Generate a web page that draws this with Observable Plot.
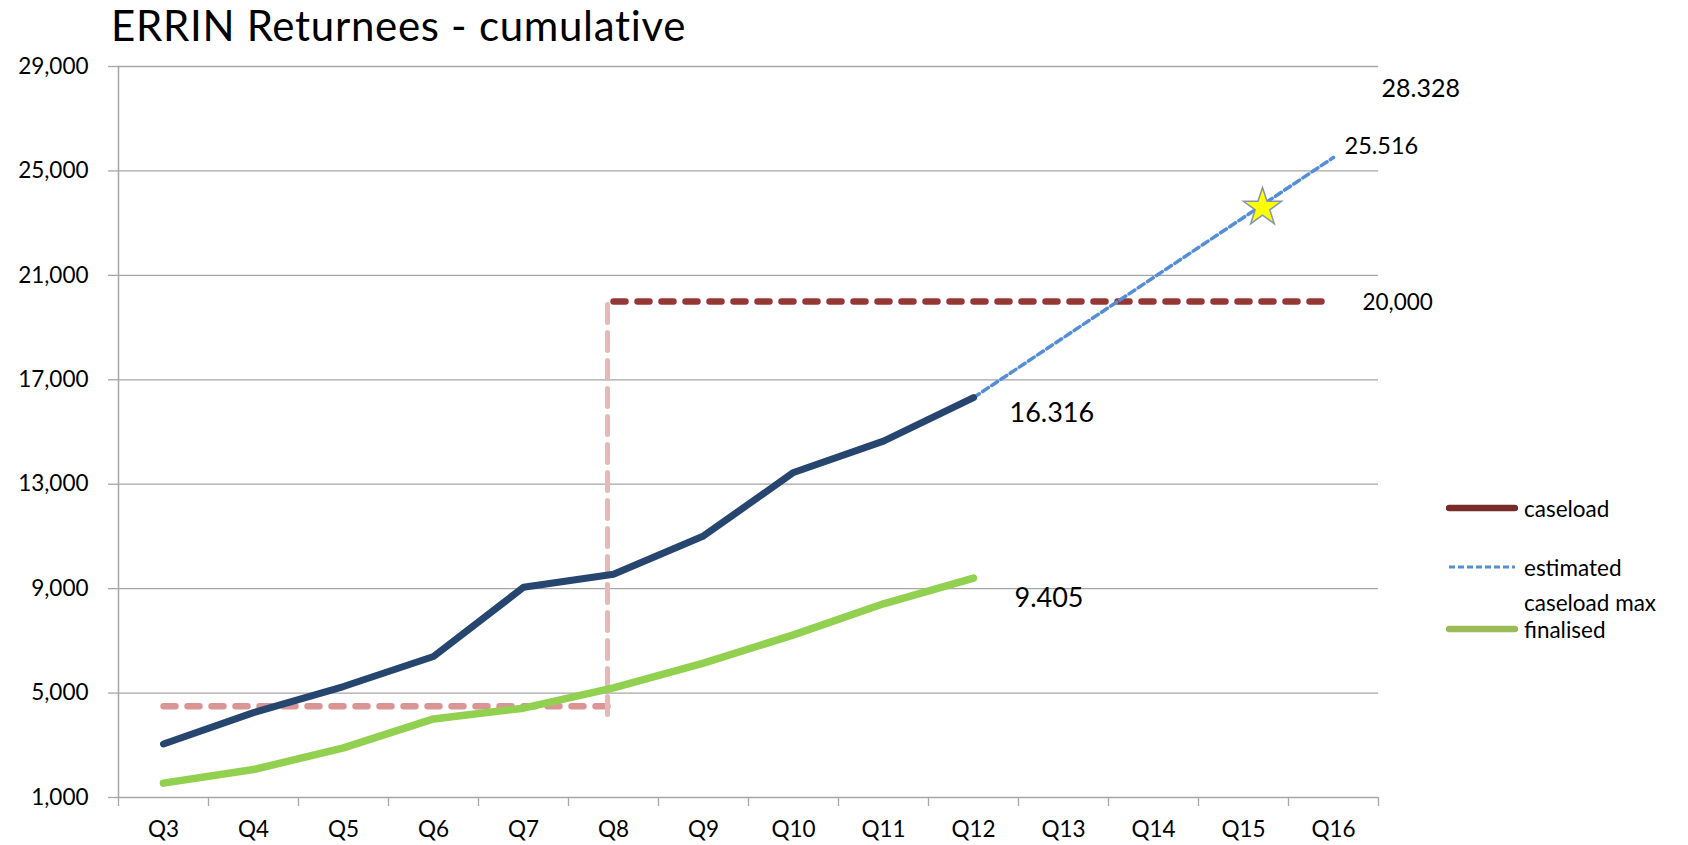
<!DOCTYPE html>
<html><head><meta charset="utf-8">
<script src="https://cdn.jsdelivr.net/npm/d3@7"></script>
<script src="https://cdn.jsdelivr.net/npm/@observablehq/plot@0.6"></script>
<style>
body{margin:0;background:#fff;}
#wrap{position:relative;width:1688px;height:845px;font-family:Lato,"Open Sans",sans-serif;overflow:hidden;}
#title{position:absolute;left:111px;top:0px;font-size:42px;letter-spacing:0.7px;line-height:normal;color:#000;white-space:nowrap;}
#chart{position:absolute;left:0;top:0;}
.leg{position:absolute;left:1446px;height:30px;display:flex;align-items:center;font-size:22.5px;color:#000;white-space:nowrap;}
.leg svg{margin-right:6px;}
</style></head>
<body>
<div id="wrap"><div id="chart"></div><div id="title">ERRIN Returnees - cumulative</div><div id="legendBox"></div></div>
<script>
// ---- data ----
const quarters = ["Q3","Q4","Q5","Q6","Q7","Q8","Q9","Q10","Q11","Q12","Q13","Q14","Q15","Q16"];
const yTicks = [1000, 5000, 9000, 13000, 17000, 21000, 25000, 29000];
const actualQuarters = ["Q3","Q4","Q5","Q6","Q7","Q8","Q9","Q10","Q11","Q12"];
const actualValues = [3050, 4250, 5250, 6400, 9050, 9550, 11020, 13450, 14650, 16316];
const finalisedValues = [1550, 2070, 2900, 4010, 4420, 5200, 6150, 7230, 8420, 9405];
const estimatedQuarters = ["Q12", "Q16"];
const estimatedValues = [16316, 25516];
const caseloadQuarters = ["Q8", "Q16"];
const caseloadValues = [20000, 20000];
const earlyCaseloadQuarters = ["Q3", "Q8"];
const earlyCaseloadValues = [4500, 4500];
const caseloadStepQuarters = ["Q8", "Q8"];
const caseloadStepValues = [4175, 20000];
const starQuarter = ["Q15"];
const starValue = [23600];
const legendLabels = ["caseload", "estimated", "caseload max", "finalised"];

// ---- build ----
const xi = q => quarters.indexOf(q);
const pts = (qs, vs) => qs.map((q, i) => ({x: xi(q), y: vs[i]}));
const actual = pts(actualQuarters, actualValues);
const finalised = pts(actualQuarters, finalisedValues);
const estimated = pts(estimatedQuarters, estimatedValues);
const caseload = pts(caseloadQuarters, caseloadValues);
const early = pts(earlyCaseloadQuarters, earlyCaseloadValues);
const step = pts(caseloadStepQuarters, caseloadStepValues);
const star = pts(starQuarter, starValue);
const xDomain = [-0.5, quarters.length - 0.5];
const bounds = d3.range(quarters.length + 1).map(i => i - 0.5);
const grid = "#a6a6a6";

const ann = (q, v, text, dx, dy, size) => Plot.text([{x: xi(q), y: v, t: text}], {
  x: "x", y: "y", text: "t", textAnchor: "start", dx, dy, fontSize: size, fill: "#000"
});

const chart = Plot.plot({
  width: 1688, height: 845,
  marginLeft: 118, marginRight: 310, marginTop: 66, marginBottom: 48,
  x: {type: "linear", domain: xDomain, axis: null, label: null},
  y: {domain: [yTicks[0], yTicks[yTicks.length - 1]], axis: null, label: null},
  style: {fontFamily: "Lato, 'Open Sans', sans-serif", fontSize: "22.5px", color: "#000", background: "#fff", overflow: "visible"},
  marks: [
    Plot.gridY(yTicks, {stroke: grid, strokeOpacity: 1, strokeWidth: 1.3}),
    Plot.axisY({ticks: yTicks, label: null, tickSize: 10, tickPadding: 20, tickFormat: d3.format(","), stroke: grid, strokeWidth: 1.3, fill: "#000"}),
    Plot.ruleX([xDomain[0]], {stroke: grid, strokeWidth: 1.5}),
    Plot.axisX({ticks: bounds, label: null, tickSize: 9, tickFormat: () => "", stroke: grid, strokeWidth: 1.3}),
    Plot.axisX({ticks: d3.range(quarters.length), label: null, tickSize: 0, tickPadding: 24, tickFormat: i => quarters[i], fill: "#000"}),
    Plot.line(early, {x: "x", y: "y", stroke: "#d99694", strokeWidth: 6.5, strokeDasharray: "12,12", strokeLinecap: "round"}),
    Plot.line(step, {x: "x", y: "y", stroke: "#e6b9b8", strokeWidth: 5, strokeDasharray: "18,10", dx: -6}),
    Plot.line(caseload, {x: "x", y: "y", stroke: "#953735", strokeWidth: 6.5, strokeDasharray: "12,12", strokeLinecap: "round"}),
    Plot.line(finalised, {x: "x", y: "y", stroke: "#92d050", strokeWidth: 7.5, strokeLinejoin: "round"}),
    Plot.line(estimated, {x: "x", y: "y", stroke: "#558ed5", strokeWidth: 3.5, strokeDasharray: "7,4"}),
    Plot.line(actual, {x: "x", y: "y", stroke: "#264670", strokeWidth: 7, strokeLinejoin: "round"}),
    Plot.dot(star, {x: "x", y: "y", symbol: "star", r: 12, fill: "#ffff00", stroke: "#8496b0", strokeWidth: 1.5, dx: 19}),
    ann("Q16", 28328, "28.328", 48, 5, 25),
    ann("Q16", 25516, "25.516", 11, -11, 23.5),
    ann("Q16", 20000, "20,000", 29, 1, 22.5),
    ann("Q12", 16316, "16.316", 36, 16, 27),
    ann("Q12", 9405, "9.405", 41, 20, 27)
  ]
});
document.getElementById("chart").appendChild(chart);

// ---- legend ----
const legendStyles = [
  {color: "#772c2a", width: 6.5, dash: null},
  {color: "#558ed5", width: 3, dash: "6,3"},
  null,
  {color: "#9bbb59", width: 6.5, dash: null}
];
const legendCenters = [508, 567, 602, 629];
const box = document.getElementById("legendBox");
legendLabels.forEach((label, i) => {
  const row = document.createElement("div");
  row.className = "leg";
  row.style.top = (legendCenters[i] - 15) + "px";
  const s = legendStyles[i];
  const w = 72;
  let sw = `<svg width="${w}" height="10">`;
  if (s) sw += `<line x1="3" x2="${w - 3}" y1="5" y2="5" stroke="${s.color}" stroke-width="${s.width}" ${s.dash ? `stroke-dasharray="${s.dash}"` : `stroke-linecap="round"`}/>`;
  sw += `</svg>`;
  row.innerHTML = sw + `<span>${label}</span>`;
  box.appendChild(row);
});
</script>
</body></html>
